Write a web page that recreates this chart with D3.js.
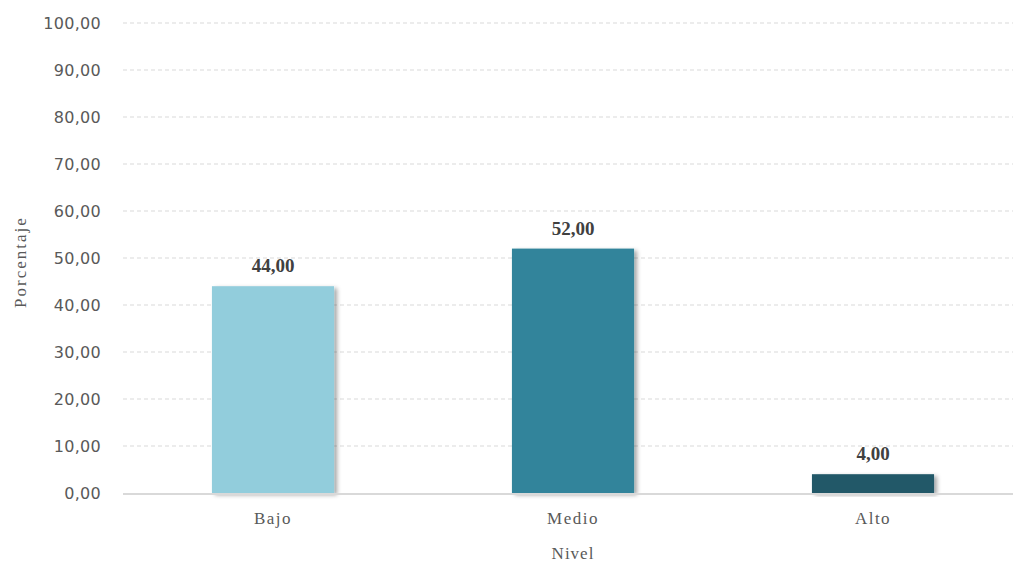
<!DOCTYPE html>
<html><head><meta charset="utf-8">
<script src="https://cdn.jsdelivr.net/npm/d3@7"></script>
<style>body{margin:0;background:#fff;}svg{display:block;}</style>
</head><body>
<script>
const categories = ["Bajo", "Medio", "Alto"];
const values = [44, 52, 4];
const colors = ["#92CDDC", "#31849B", "#215968"];
const yTicks = [0,10,20,30,40,50,60,70,80,90,100];

const W = 1013, H = 563;
const svg = d3.select("body").append("svg").attr("width", W).attr("height", H);
const defs = svg.append("defs");
const f = defs.append("filter").attr("id","sh").attr("x","-10%").attr("y","-10%").attr("width","130%").attr("height","130%");
f.append("feDropShadow").attr("dx",3).attr("dy",2).attr("stdDeviation",2).attr("flood-color","#000").attr("flood-opacity",0.35);

const x = d3.scaleBand().domain(categories).range([123, 1023]).paddingInner(0.593).paddingOuter(0.2965);
const y = d3.scaleLinear().domain([0, 100]).range([493, 23]);
const fmt = v => d3.format(".2f")(v).replace(".", ",");

// gridlines
svg.append("g").selectAll("line").data(yTicks.filter(t=>t>0)).join("line")
  .attr("x1",123).attr("x2",1013).attr("y1",d=>y(d)).attr("y2",d=>y(d))
  .attr("stroke","#d9d9d9").attr("stroke-width",1).attr("stroke-dasharray","4,3");

// y axis labels
const yAxis = d3.axisLeft(y).tickValues(yTicks).tickFormat(fmt).tickSize(0).tickPadding(0);
const ga = svg.append("g").attr("transform","translate(101,0)").call(yAxis);
ga.select(".domain").remove();
ga.selectAll("text").attr("fill","#595959").style("font-family","'DejaVu Sans', sans-serif").style("font-size","16px").style("letter-spacing","0.3px");

// bars
svg.append("g").selectAll("rect").data(values).join("rect")
  .attr("x",(d,i)=>x(categories[i])).attr("width",x.bandwidth())
  .attr("y",d=>y(d)).attr("height",d=>y(0)-y(d))
  .attr("fill",(d,i)=>colors[i]).attr("filter","url(#sh)");

// baseline
svg.append("line").attr("x1",123).attr("x2",1013).attr("y1",y(0)+1).attr("y2",y(0)+1)
  .attr("stroke","#d9d9d9").attr("stroke-width",2);

// data labels
svg.append("g").selectAll("text").data(values).join("text")
  .attr("x",(d,i)=>x(categories[i])+x.bandwidth()/2).attr("y",d=>y(d)-14)
  .attr("text-anchor","middle").attr("fill","#404040")
  .style("font-family","'Liberation Serif', serif").style("font-weight","bold").style("font-size","19px")
  .text(fmt);

// x axis labels
const xAxis = d3.axisBottom(x).tickSize(0).tickPadding(0);
const gx = svg.append("g").attr("transform","translate(0,512)").call(xAxis);
gx.select(".domain").remove();
gx.selectAll("text").attr("fill","#595959").style("font-family","'Liberation Serif', serif").style("font-size","17px").style("letter-spacing","1.5px").attr("dy","0.71em");

// axis titles
svg.append("text").attr("x",573).attr("y",559).attr("text-anchor","middle").attr("fill","#595959")
  .style("font-family","'Liberation Serif', serif").style("font-size","17px").style("letter-spacing","1px").text("Nivel");
svg.append("text").attr("transform","translate(26,262) rotate(-90)").attr("text-anchor","middle").attr("fill","#595959")
  .style("font-family","'Liberation Serif', serif").style("font-size","17px").style("letter-spacing","2px").text("Porcentaje");
</script>
</body></html>
